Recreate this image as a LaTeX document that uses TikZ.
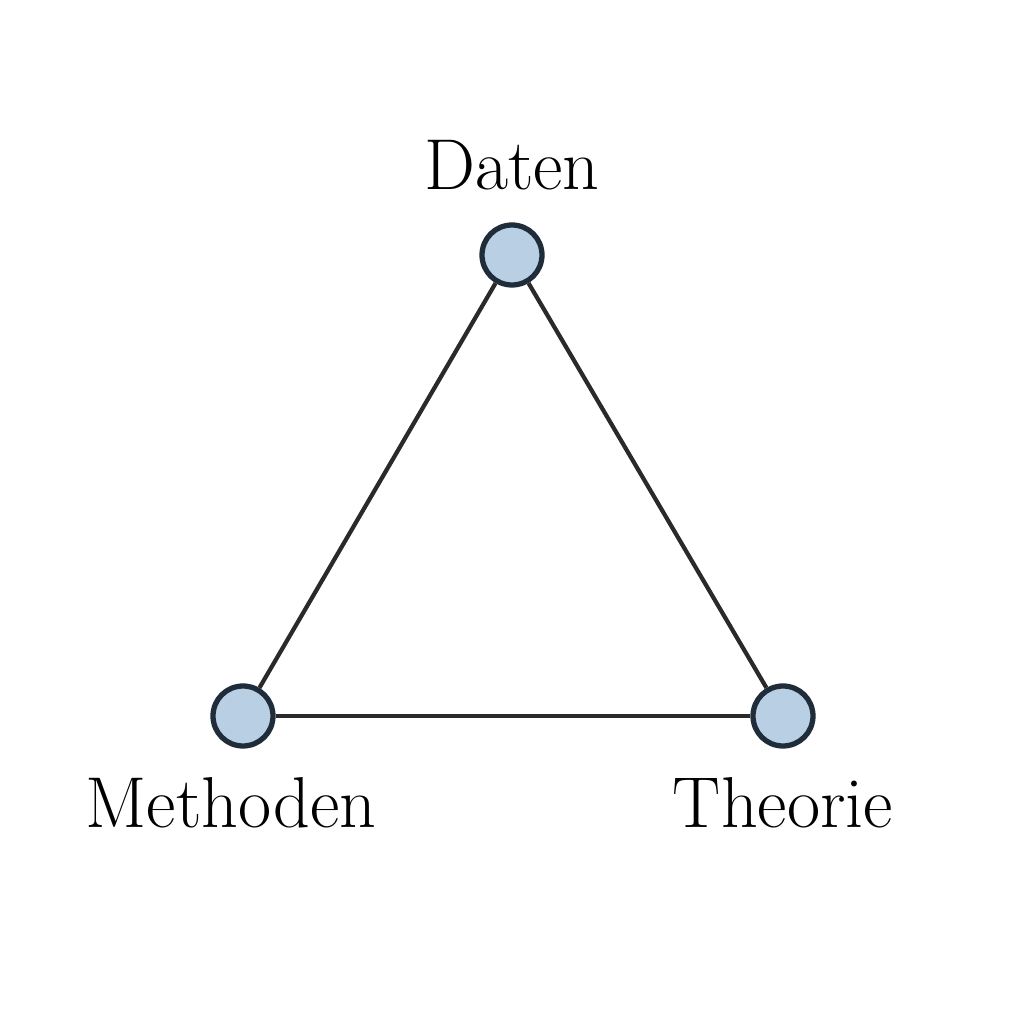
\documentclass[tikz,border=0pt]{standalone}
\usepackage{tikz}
\definecolor{knotfill}{HTML}{B9CFE3}
\definecolor{knotline}{HTML}{1F2D3A}
\definecolor{kante}{HTML}{2A2A2A}
\begin{document}
\begin{tikzpicture}
                \useasboundingbox (0,0) rectangle (10.24,10.24);
                \begin{scope}[every node/.style={draw=knotline, fill=knotfill, line width=1.5pt, circle, minimum size=0.6cm, inner sep=0}]
                        \node (D) at (5.12,7.69) {};
                        \node (M) at (2.43,3.08) {};
                        \node (T) at (7.83,3.08) {};
                \end{scope}
                \begin{scope}[every node/.style={anchor=base, inner sep=0, font=\fontsize{20.5}{24}\selectfont}]
                        \node (LD) at (5.12,8.34) {Daten};
                        \node (LM) at (2.31,1.96) {Methoden};
                        \node (LT) at (7.83,1.96) {Theorie};
                \end{scope}
                \begin{scope}[every path/.style={draw=kante, line width=1.2pt}]
                        \path (D) edge (M);
                        \path (M) edge (T);
                        \path (T) edge (D);
                \end{scope}
        \end{tikzpicture}
\end{document}
